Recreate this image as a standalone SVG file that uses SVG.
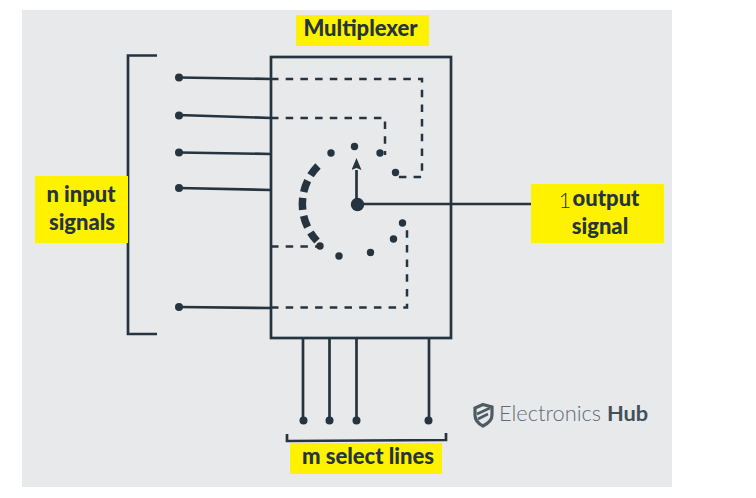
<svg xmlns="http://www.w3.org/2000/svg" width="756" height="498" viewBox="0 0 756 498">
<style>
.ln{fill:none;stroke:#25343f;stroke-width:2.7}
.ds{fill:none;stroke:#25343f;stroke-width:2.5;stroke-dasharray:7.500 7.200}
.dot{fill:#25343f}
.lb{fill:#fff200}
.t{font-family:Lato,"Noto Sans",sans-serif;font-weight:900;font-size:22px;fill:#25343f;text-anchor:middle}
.lg{font-family:Lato,"Noto Sans",sans-serif;font-size:21.800px;font-weight:300;fill:#5f6b73}
</style>
<defs><marker id="ah" markerUnits="userSpaceOnUse" markerWidth="12" markerHeight="10" refX="0" refY="5" orient="auto" viewBox="0 0 12 10"><path d="M12 5L0 10L2 5L0 0Z" fill="#25343f"/></marker></defs>
<rect x="0" y="0" width="756" height="498" fill="#fff"/>
<rect x="22" y="10" width="650" height="477" fill="#e8e9eb"/>
<g id="connectors">
<path class="ln" d="M179 77.500L271 79M178 115L271 118M179 152.500L271 154M179 188L271 190M179 307L271 308"/>
<path class="ln" d="M157 55.500H128V334H157"/>
<path class="ln" d="M303 338V420M329.500 338V420M356.500 338V420M429 338V420"/>
<path class="ln" d="M287 434V441L446 440V433"/>
<path class="ln" d="M357 204H531"/>
<path class="ln" d="M356.500 204V170" marker-end="url(#ah)"/>
<path class="ds" d="M271 79H422V177H398"/>
<path class="ds" d="M271 118H385V155"/>
<path class="ds" d="M271 246.500H320"/>
<path class="ds" d="M271 307.500H407V224"/>
<path fill="none" stroke="#25343f" stroke-width="7.500" stroke-dasharray="12 6" d="M318 166A54 54 0 0 0 317 241"/>
</g>
<g id="mux"><rect class="ln" x="271" y="57" width="180" height="281"/></g>
<g id="contacts">
<circle class="dot" cx="331" cy="153" r="3.700"/><circle class="dot" cx="354.500" cy="146.500" r="3.700"/><circle class="dot" cx="380" cy="153" r="3.700"/><circle class="dot" cx="395.500" cy="172.500" r="3.700"/>
<circle class="dot" cx="320" cy="246" r="3.700"/><circle class="dot" cx="339" cy="256" r="3.700"/><circle class="dot" cx="370.500" cy="252.500" r="3.700"/><circle class="dot" cx="393.500" cy="239" r="3.700"/><circle class="dot" cx="402.500" cy="223" r="3.700"/>
<circle class="dot" cx="357.500" cy="204.500" r="6.700"/>
</g>
<g id="inputs"><circle class="dot" cx="179" cy="77.500" r="4"/><circle class="dot" cx="179" cy="115.500" r="4"/><circle class="dot" cx="179" cy="152.500" r="4"/><circle class="dot" cx="179" cy="188" r="4"/><circle class="dot" cx="179" cy="307" r="4"/></g>
<g id="selects"><circle class="dot" cx="303.500" cy="420.500" r="4"/><circle class="dot" cx="329.500" cy="420.500" r="4"/><circle class="dot" cx="356.500" cy="420.500" r="4"/><circle class="dot" cx="428.500" cy="420.500" r="4"/></g>
<g id="title"><rect class="lb" x="296" y="15" width="133" height="31"/><text class="t" x="360.500" y="36">Multiplexer</text></g>
<g id="n-input"><rect class="lb" x="35" y="176" width="93" height="67"/><text class="t" x="81" y="202">n input</text><text class="t" x="82" y="230">signals</text></g>
<g id="output"><rect class="lb" x="531" y="184" width="133" height="59"/><text class="t" x="565" y="208" style="font-weight:300">1</text><text class="t" x="606" y="206">output</text><text class="t" x="600" y="234">signal</text></g>
<g id="m-select"><rect class="lb" x="290" y="443" width="152" height="31"/><text class="t" x="368" y="464">m select lines</text></g>
<g id="logo">
<path fill="none" stroke="#4f5b63" stroke-width="3.200" d="M483 404.500L492 407V415C492 421 487 424 483 426C479 424 475 421 475 415V408Z"/>
<path fill="none" stroke="#4f5b63" stroke-width="2.600" d="M477 414L490 408M478 419L488 414"/>
<text class="lg" x="499" y="421">Electronics <tspan style="font-weight:700;fill:#43505a">Hub</tspan></text>
</g>
</svg>
